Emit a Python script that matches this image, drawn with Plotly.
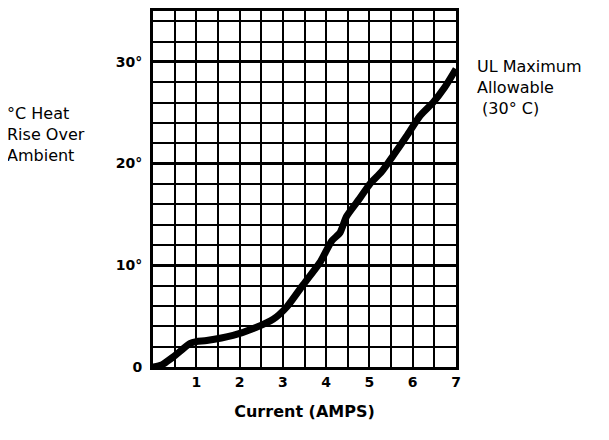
"""Heat rise over ambient vs current, recreated as a graph-paper style chart."""
import plotly.graph_objects as go

# Curve
current_amps = [0, 0.2, 0.47, 0.85, 1.0, 1.24, 1.85, 2.39, 2.78, 3.09, 3.47, 3.86,
                4.13, 4.32, 4.47, 4.78, 5.01, 5.28, 5.55, 5.86, 6.17, 6.47, 6.74, 7.0]
heat_rise = [0, 0.2, 1.0, 2.3, 2.5, 2.6, 3.1, 3.9, 4.7, 5.9, 8.1, 10.3,
             12.4, 13.2, 14.8, 16.6, 18.0, 19.2, 20.8, 22.7, 24.7, 26.0, 27.5, 29.3]

x_ticks = [1, 2, 3, 4, 5, 6, 7]
x_tick_text = ["1", "2", "3", "4", "5", "6", "7"]
y_ticks = [0, 10, 20, 30]
y_tick_text = ["0", "10°", "20°", "30°"]

FONT = "DejaVu Sans, Verdana, sans-serif"

fig = go.Figure()
fig.add_trace(go.Scatter(
    x=current_amps, y=heat_rise, mode="lines",
    line=dict(color="black", width=7, shape="spline", smoothing=0.6),
    hoverinfo="skip", showlegend=False,
))

fig.update_xaxes(
    range=[0, 7], tickvals=x_ticks, ticktext=x_tick_text,
    showgrid=True, gridcolor="black", gridwidth=2,
    minor=dict(dtick=0.5, tick0=0, showgrid=True, gridcolor="black", gridwidth=2),
    showline=True, linecolor="black", linewidth=3, mirror=True,
    ticks="", zeroline=False,
    tickfont=dict(family=FONT, size=14, color="black", weight="bold"),
    title=dict(text="Current (AMPS)", standoff=18,
               font=dict(family=FONT, size=16, color="black", weight="bold")),
)
fig.update_yaxes(
    range=[0, 35], tickvals=y_ticks, ticktext=y_tick_text,
    showgrid=True, gridcolor="black", gridwidth=3,
    minor=dict(dtick=2, tick0=0, showgrid=True, gridcolor="black", gridwidth=2),
    showline=True, linecolor="black", linewidth=3, mirror=True,
    ticks="", zeroline=False, ticklabelstandoff=5,
    tickfont=dict(family=FONT, size=14, color="black", weight="bold"),
)

fig.add_annotation(
    text="°C Heat<br>Rise Over<br>Ambient", xref="paper", yref="paper",
    x=-0.49, y=0.745, xanchor="left", yanchor="top", align="left", showarrow=False,
    font=dict(family=FONT, size=16, color="black"),
)
fig.add_annotation(
    text="UL Maximum<br>Allowable<br> (30° C)", xref="paper", yref="paper",
    x=1.063, y=0.877, xanchor="left", yanchor="top", align="left", showarrow=False,
    font=dict(family=FONT, size=16, color="black"),
)

# page body adds an 8px offset, so margins are shifted to land the plot area in place
fig.update_layout(
    width=609, height=440,
    margin=dict(l=145, r=161, t=0, b=81),
    plot_bgcolor="white", paper_bgcolor="white",
)
fig.write_html("out.html")
